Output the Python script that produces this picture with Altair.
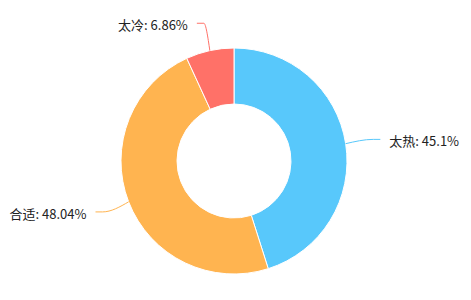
import math
import altair as alt
import pandas as pd

# ---- data ----
names = ["太热", "合适", "太冷"]
pcts = [45.1, 48.04, 6.86]
colors = ["#58C8FB", "#FFB450", "#FF7168"]

# ---- geometry / style ----
W, H = 471, 300
CX, CY = 234, 161
R_OUT, R_IN = 113, 57
L1, L2, GAP = 28, 7, 9
FONT = "Noto Sans CJK SC"

total = sum(pcts)
arc_df = pd.DataFrame({"name": names, "pct": pcts, "idx": list(range(len(names)))})

line_rows, label_rows = [], []
start = 0.0
for i, (n, p) in enumerate(zip(names, pcts)):
    mid = (start + p / 2) / total * 2 * math.pi
    start += p
    s, c = math.sin(mid), math.cos(mid)
    side = 1 if s >= 0 else -1
    x0, y0 = CX + R_OUT * s, CY - R_OUT * c
    x1, y1 = CX + (R_OUT + L1) * s, CY - (R_OUT + L1) * c
    x2, y2 = x1 + side * L2, y1
    for k, (xx, yy) in enumerate([(x0, y0), (x1, y1), (x2, y2)]):
        line_rows.append({"name": n, "step": k, "x": xx, "y": yy})
    label_rows.append({"name": n, "label": f"{n}: {p}%", "x": x2 + side * GAP,
                       "y": y2, "side": "R" if side > 0 else "L"})

line_df = pd.DataFrame(line_rows)
label_df = pd.DataFrame(label_rows)

color_scale = alt.Scale(domain=names, range=colors)

arcs = alt.Chart(arc_df).mark_arc(
    radius=R_OUT, radius2=R_IN, stroke="white", strokeWidth=1
).encode(
    theta=alt.Theta("pct:Q", stack=True),
    color=alt.Color("name:N", scale=color_scale, legend=None),
    order=alt.Order("idx:Q"),
    x=alt.value(CX),
    y=alt.value(CY),
)

lines = alt.Chart(line_df).mark_line(interpolate="monotone", strokeWidth=1).encode(
    x=alt.X("x:Q", scale=None),
    y=alt.Y("y:Q", scale=None),
    detail="name:N",
    order=alt.Order("step:Q"),
    color=alt.Color("name:N", scale=color_scale, legend=None),
)

txt_common = dict(font=FONT, fontSize=13, color="#222222", baseline="middle", dy=3)
labels_r = alt.Chart(label_df).transform_filter(alt.datum.side == "R").mark_text(
    align="left", **txt_common
).encode(x=alt.X("x:Q", scale=None), y=alt.Y("y:Q", scale=None), text="label:N")
labels_l = alt.Chart(label_df).transform_filter(alt.datum.side == "L").mark_text(
    align="right", **txt_common
).encode(x=alt.X("x:Q", scale=None), y=alt.Y("y:Q", scale=None), text="label:N")

chart = alt.layer(arcs, lines, labels_r, labels_l).properties(
    width=W, height=H, autosize=alt.AutoSizeParams(type="none"), padding=0,
    background="white",
).configure_view(stroke=None)

chart.save("out.html", embed_options={"renderer": "svg", "actions": False})
